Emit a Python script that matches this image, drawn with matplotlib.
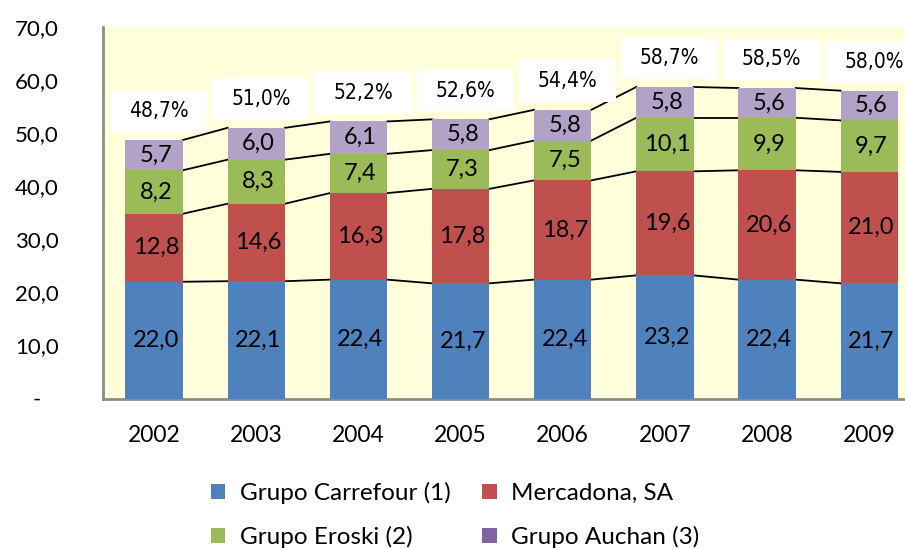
import matplotlib
matplotlib.use("Agg")
import matplotlib.pyplot as plt
from matplotlib.patches import Patch, Rectangle
import numpy as np

years = ["2002", "2003", "2004", "2005", "2006", "2007", "2008", "2009"]
carrefour = [22.0, 22.1, 22.4, 21.7, 22.4, 23.2, 22.4, 21.7]
mercadona = [12.8, 14.6, 16.3, 17.8, 18.7, 19.6, 20.6, 21.0]
eroski = [8.2, 8.3, 7.4, 7.3, 7.5, 10.1, 9.9, 9.7]
auchan = [5.7, 6.0, 6.1, 5.8, 5.8, 5.8, 5.6, 5.6]
series_names = ["Grupo Carrefour (1)", "Mercadona, SA", "Grupo Eroski (2)", "Grupo Auchan (3)"]
yticks = [0, 10, 20, 30, 40, 50, 60, 70]

bar_colors = ["#4F81BD", "#C0504D", "#9BBB59", "#B3A2C7"]
legend_colors = ["#4F81BD", "#C0504D", "#9BBB59", "#8064A2"]

FONT = "Lato"

fig = plt.figure(figsize=(9.05, 5.49), dpi=100)
ax = fig.add_axes([103/905, 1 - 398.5/549, 1 - 103/905, (398.5 - 27)/549])
ax.set_facecolor("#FFFFDC")

x = np.arange(len(years))
w = 0.56
data = [carrefour, mercadona, eroski, auchan]
bottom = np.zeros(len(years))
cums = []
for vals, col in zip(data, bar_colors):
    vals = np.array(vals)
    ax.bar(x, vals, w, bottom=bottom, color=col, zorder=3, linewidth=0)
    for xi, b, v in zip(x, bottom, vals):
        ax.text(xi + 0.02, b + v / 2, f"{v:.1f}".replace(".", ","), ha="center", va="center",
                fontsize=17, family=FONT, color="black", zorder=5)
    bottom = bottom + vals
    cums.append(bottom.copy())

# series lines
for c in cums:
    for i in range(len(x) - 1):
        ax.plot([x[i] + w / 2, x[i + 1] - w / 2], [c[i], c[i + 1]], color="black", lw=1.3, zorder=2)

# total labels
totals = cums[-1]
box_w, box_h, gap, off = 0.95, 7.8, 1.5, 0.045
for xi, t in zip(x, totals):
    ax.add_patch(Rectangle((xi + off - box_w / 2, t + gap), box_w, box_h, facecolor="white",
                           edgecolor="none", zorder=4, clip_on=False))
    ax.text(xi + off, t + gap + box_h / 2, f"{t:.1f}%".replace(".", ","), ha="center", va="center",
            fontsize=15, family="DejaVu Sans", fontstretch="condensed", zorder=6)

ax.set_xlim(-0.5, 7.35)
ax.set_ylim(0, 70)
ax.set_yticks(yticks)
ax.set_yticklabels(["-   " if v == 0 else f"{v:.1f}".replace(".", ",") for v in yticks],
                   family=FONT, fontsize=16)
ax.set_xticks(x)
ax.set_xticklabels(years, family=FONT, fontsize=16.5)
ax.tick_params(axis="y", length=0, pad=32)
ax.tick_params(axis="x", length=0, pad=19)
for s in ["top", "right"]:
    ax.spines[s].set_visible(False)
for s in ["left", "bottom"]:
    ax.spines[s].set_color("#8C8C8C")
    ax.spines[s].set_linewidth(2)

order = [0, 2, 1, 3]
handles = [Patch(facecolor=legend_colors[i], edgecolor="none", label=series_names[i]) for i in order]
fig.legend(handles=handles, ncol=2, loc="center", bbox_to_anchor=(455/905, 1 - 515/549),
           frameon=False, prop={"family": FONT, "size": 17.5}, handlelength=0.6, handleheight=0.6,
           handletextpad=0.6, columnspacing=1.3, labelspacing=0.9)

fig.savefig("out.png", dpi=100)
